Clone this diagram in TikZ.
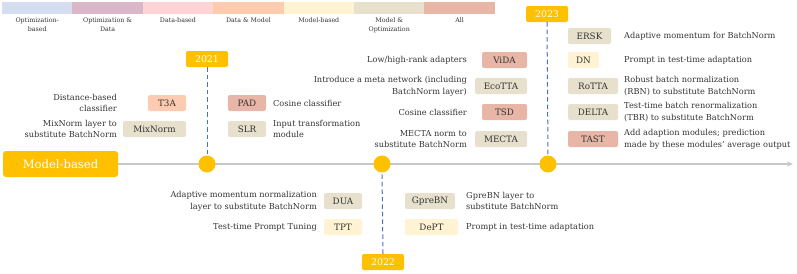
\documentclass[tikz,border=0pt]{standalone}
\usepackage{fontspec}
\setmainfont{DejaVu Serif}
\usetikzlibrary{arrows.meta}
\definecolor{cOpt}{HTML}{D4DEF0}
\definecolor{cOptData}{HTML}{D9B6C8}
\definecolor{cData}{HTML}{FFD4D4}
\definecolor{cDataModel}{HTML}{FDCBAF}
\definecolor{cModel}{HTML}{FFF3D3}
\definecolor{cModelOpt}{HTML}{E6E0CD}
\definecolor{cAll}{HTML}{E8B6A6}
\definecolor{gold}{HTML}{FFC000}
\definecolor{dashblue}{HTML}{4472C4}
\definecolor{axisgray}{HTML}{C8C8C8}
\definecolor{txt}{HTML}{333333}
\tikzset{
  legbar/.style={rectangle, inner sep=0pt, minimum width=70.4pt, minimum height=12pt},
  leglabel/.style={anchor=north, align=center, font=\fontsize{6.3}{8.5}\selectfont, text=txt, inner sep=0pt},
  tag/.style={rectangle, rounded corners=2pt, inner sep=0pt, minimum height=16pt, font=\fontsize{8.8}{10}\selectfont, text=txt},
  lblL/.style={anchor=east, align=right, inner sep=0pt, font=\fontsize{8.2}{11.8}\selectfont, text=txt},
  lblR/.style={anchor=west, align=left, inner sep=0pt, font=\fontsize{8.2}{11.8}\selectfont, text=txt},
  yearbox/.style={rectangle, rounded corners=2pt, fill=gold, text=white, inner sep=0pt, minimum width=42pt, minimum height=16pt, font=\fontsize{9.4}{10}\selectfont},
  dot/.style={circle, fill=gold, inner sep=0pt, minimum size=17pt},
  yrdash/.style={dash pattern=on 4.5pt off 3pt, dashblue, line width=1pt},
  axisline/.style={axisgray, line width=1.4pt, -{Stealth[length=6pt,width=5pt]}}
}
\begin{document}
\begin{tikzpicture}[x=1pt,y=-1pt]
\useasboundingbox (0,0) rectangle (797,273);
% legend
\node[legbar, fill=cOpt] (l1) at (37.2,8) {};
\node[legbar, fill=cOptData] (l2) at (107.6,8) {};
\node[legbar, fill=cData] (l3) at (178,8) {};
\node[legbar, fill=cDataModel] (l4) at (248.4,8) {};
\node[legbar, fill=cModel] (l5) at (318.8,8) {};
\node[legbar, fill=cModelOpt] (l6) at (389.2,8) {};
\node[legbar, fill=cAll] (l7) at (459.6,8) {};
\node[leglabel] (t1) at (37.2,18) {Optimization-\\based};
\node[leglabel] (t2) at (107.6,18) {Optimization \&\\Data};
\node[leglabel] (t3) at (178,18) {Data-based};
\node[leglabel] (t4) at (248.4,18) {Data \& Model};
\node[leglabel] (t5) at (318.8,18) {Model-based};
\node[leglabel] (t6) at (389.2,18) {Model \&\\Optimization};
\node[leglabel] (t7) at (459.6,18) {All};
% timeline
\node[rectangle, rounded corners=3pt, fill=gold, text=white, minimum width=115pt, minimum height=26pt, inner sep=0pt, font=\fontsize{11.6}{13}\selectfont] (mb) at (60.5,164) {Model-based};
\coordinate (axend) at (793,164);
\draw[axisline] (mb.east) -- (axend);
\node[dot] (c2021) at (207,164) {};
\node[dot] (c2022) at (382,164) {};
\node[dot] (c2023) at (548,164) {};
\node[yearbox] (y2021) at (207,59) {2021};
\node[yearbox] (y2022) at (383,262) {2022};
\node[yearbox] (y2023) at (547,14) {2023};
\draw[yrdash] (y2021.south) -- (c2021.north);
\draw[yrdash] (y2022.north) -- (c2022.south);
\draw[yrdash] (y2023.south) -- (c2023.north);
% 2021
\node[tag, fill=cDataModel, minimum width=38pt] (t3a) at (167,103) {T3A};
\node[lblL] (t3al) at (117,103) {Distance-based\\classifier};
\node[tag, fill=cModelOpt, minimum width=63pt] (mixnorm) at (154.5,129) {MixNorm};
\node[lblL] (mixl) at (117,129) {MixNorm layer to\\substitute BatchNorm};
\node[tag, fill=cAll, minimum width=38pt] (pad) at (247,103) {PAD};
\node[lblR] (padl) at (273,103) {Cosine classifier};
\node[tag, fill=cModelOpt, minimum width=38pt] (slr) at (247,129) {SLR};
\node[lblR] (slrl) at (273,129) {Input transformation\\module};
% between 2022 and 2023 (top)
\node[tag, fill=cAll, minimum width=45pt] (vida) at (504.5,60) {ViDA};
\node[lblL] (vidal) at (467,60) {Low/high-rank adapters};
\node[tag, fill=cModelOpt, minimum width=52pt] (ecotta) at (501,86) {EcoTTA};
\node[lblL] (ecol) at (467,86) {Introduce a meta network (including\\BatchNorm layer)};
\node[tag, fill=cAll, minimum width=45pt] (tsd) at (504.5,112) {TSD};
\node[lblL] (tsdl) at (467,112) {Cosine classifier};
\node[tag, fill=cModelOpt, minimum width=52pt] (mecta) at (501,139) {MECTA};
\node[lblL] (mectal) at (467,139) {MECTA norm to\\substitute BatchNorm};
% 2023
\node[tag, fill=cModelOpt, minimum width=43pt] (ersk) at (589.5,36) {ERSK};
\node[lblR] (erskl) at (624,36) {Adaptive momentum for BatchNorm};
\node[tag, fill=cModel, minimum width=31pt] (dn) at (583.5,60) {DN};
\node[lblR] (dnl) at (624,60) {Prompt in test-time adaptation};
\node[tag, fill=cModelOpt, minimum width=50pt] (rotta) at (593,86) {RoTTA};
\node[lblR] (rottal) at (624,86) {Robust batch normalization\\(RBN) to substitute BatchNorm};
\node[tag, fill=cModelOpt, minimum width=50pt] (delta) at (593,112) {DELTA};
\node[lblR] (deltal) at (624,112) {Test-time batch renormalization\\(TBR) to substitute BatchNorm};
\node[tag, fill=cAll, minimum width=50pt] (tast) at (593,139) {TAST};
\node[lblR] (tastl) at (624,139) {Add adaption modules; prediction\\made by these modules' average output};
% below 2022
\node[tag, fill=cModelOpt, minimum width=38pt] (dua) at (343,201) {DUA};
\node[lblL] (dual) at (317,201) {Adaptive momentum normalization\\layer to substitute BatchNorm};
\node[tag, fill=cModel, minimum width=38pt] (tpt) at (343,227) {TPT};
\node[lblL] (tptl) at (317,227) {Test-time Prompt Tuning};
\node[tag, fill=cModelOpt, minimum width=50pt] (gprebn) at (430,201) {GpreBN};
\node[lblR] (gprel) at (466,201) {GpreBN layer to\\substitute BatchNorm};
\node[tag, fill=cModel, minimum width=53pt] (dept) at (431.5,227) {DePT};
\node[lblR] (deptl) at (466,227) {Prompt in test-time adaptation};
\end{tikzpicture}
\end{document}
